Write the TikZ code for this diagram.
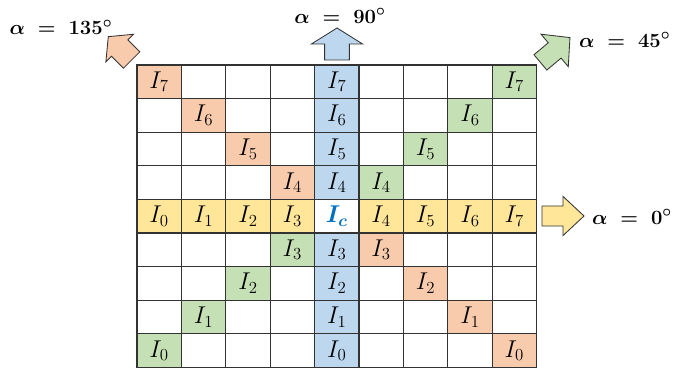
\documentclass[tikz,border=0pt]{standalone}
\usepackage{amsmath}
\usetikzlibrary{calc}
\definecolor{corange}{HTML}{F8CBAD}
\definecolor{cblue}{HTML}{BDD7EE}
\definecolor{cgreen}{HTML}{C5E0B4}
\definecolor{cyellow}{HTML}{FFE699}
\definecolor{cgrid}{HTML}{333333}
\definecolor{cic}{HTML}{0070C0}
\tikzset{
  every picture/.style={line width=0.8pt},
  cell/.style={draw=cgrid, fill=#1, minimum width=1.11cm, minimum height=0.84cm, inner sep=0pt, font=\fontsize{17}{19}\selectfont},
  cell/.default=white,
  blockarrow/.style={draw=cgrid, fill=#1, line width=0.6pt, line join=miter},
  anglabel/.style={font=\fontsize{15}{17}\selectfont},
}

\begin{document}
\begin{tikzpicture}
  \useasboundingbox (0,0) rectangle (16.825,-9.275);
  % empty 9x9 grid
  \foreach \row in {0,...,8}
    \foreach \col in {0,...,8}
      \node[cell] (p\row\col) at ({3.98+1.11*\col},{-2.045-0.84*\row}) {};
  % alpha = 0 row
  \foreach \col/\idx in {0/0,1/1,2/2,3/3,5/4,6/5,7/6,8/7}
    \node[cell=cyellow] (h\col) at (p4\col) {$I_\idx$};
  % alpha = 90 column
  \foreach \row/\idx in {0/7,1/6,2/5,3/4,5/3,6/2,7/1,8/0}
    \node[cell=cblue] (v\row) at (p\row4) {$I_\idx$};
  % alpha = 135 diagonal
  \foreach \row/\idx in {0/7,1/6,2/5,3/4,5/3,6/2,7/1,8/0}
    \node[cell=corange] (d\row) at (p\row\row) {$I_\idx$};
  % alpha = 45 diagonal
  \foreach \row/\col/\idx in {0/8/7,1/7/6,2/6/5,3/5/4,5/3/3,6/2/2,7/1/1,8/0/0}
    \node[cell=cgreen] (g\row) at (p\row\col) {$I_\idx$};
  % centre pixel
  \node[cell] (ic) at (p44) {\textcolor{cic}{$\boldsymbol{I_c}$}};
  % direction arrows
  \draw[blockarrow=corange, shift={(3.29,-1.5)}, rotate=135] (0,-0.29) -- (0.42,-0.29) -- (0.42,-0.49) -- (0.825,0) -- (0.42,0.49) -- (0.42,0.29) -- (0,0.29) -- cycle;
  \draw[blockarrow=cblue, shift={(8.425,-1.5)}, rotate=90] (0,-0.31) -- (0.4,-0.31) -- (0.4,-0.64) -- (0.8,0) -- (0.4,0.64) -- (0.4,0.31) -- (0,0.31) -- cycle;
  \draw[blockarrow=cgreen, shift={(13.51,-1.56)}, rotate=40] (0,-0.25) -- (0.465,-0.25) -- (0.465,-0.53) -- (0.965,0) -- (0.465,0.53) -- (0.465,0.25) -- (0,0.25) -- cycle;
  \draw[blockarrow=cyellow, shift={(13.55,-5.4)}] (0,-0.25) -- (0.525,-0.25) -- (0.525,-0.49) -- (1.05,0) -- (0.525,0.49) -- (0.525,0.25) -- (0,0.25) -- cycle;
  % angle labels
  \node[anglabel] (a135) at (1.525,-0.69) {$\boldsymbol{\alpha \;=\; 135^{\circ}}$};
  \node[anglabel] (a90) at (8.5,-0.4) {$\boldsymbol{\alpha \;=\; 90^{\circ}}$};
  \node[anglabel] (a45) at (15.62,-1.0) {$\boldsymbol{\alpha \;=\; 45^{\circ}}$};
  \node[anglabel] (a0) at (15.8,-5.42) {$\boldsymbol{\alpha \;=\; 0^{\circ}}$};
\end{tikzpicture}
\end{document}
